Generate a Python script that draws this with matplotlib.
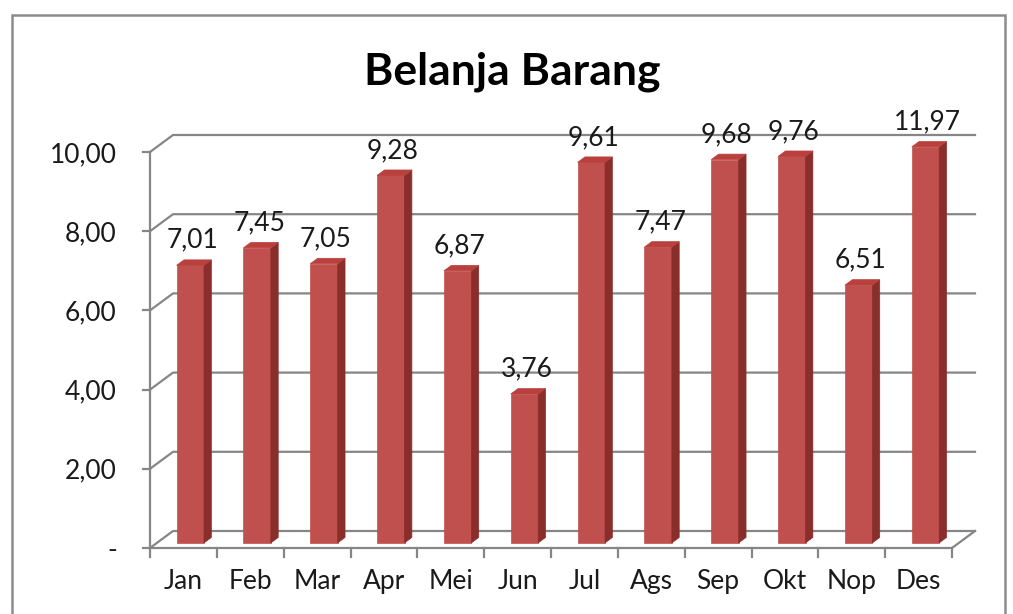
import numpy as np
import matplotlib
matplotlib.use("Agg")
import matplotlib.pyplot as plt
from matplotlib.patches import Polygon, Rectangle
from matplotlib.lines import Line2D
from matplotlib.transforms import IdentityTransform

plt.rcParams['font.family'] = ['Lato', 'DejaVu Sans']

months = ["Jan", "Feb", "Mar", "Apr", "Mei", "Jun", "Jul", "Ags", "Sep", "Okt", "Nop", "Des"]
values = [7.01, 7.45, 7.05, 9.28, 6.87, 3.76, 9.61, 7.47, 9.68, 9.76, 6.51, 11.97]
y_ticks = [0, 2, 4, 6, 8, 10]
y_tick_labels = ["-", "2,00", "4,00", "6,00", "8,00", "10,00"]
title = "Belanja Barang"

W, H, DPI = 1013, 614, 100
DX, DY = 23, 17          # depth offset of the back wall, pixels
BAR_W = 0.41
BAR_D0, BAR_D1 = 0.30, 0.62   # bar front/back as fraction of depth
GRID = "#868686"
FRONT = "#C0504D"
SIDE = "#8A2E2C"
TOP = "#B9403D"
TXT = "#1a1a1a"

fig = plt.figure(figsize=(W / DPI, H / DPI), dpi=DPI)
ax = fig.add_axes([150 / W, 1 - 548 / H, (952 - 150) / W, (548 - 152) / H])
ax.set_xlim(0, len(months))
ax.set_ylim(0, 10)
for s in ax.spines.values():
    s.set_visible(False)
ax.patch.set_visible(False)

# outer chart frame
fig.patches.append(Rectangle((12 / W, -0.1), (1005 - 12) / W, 1.1 - 15 / H,
                             transform=fig.transFigure, fill=False,
                             edgecolor="#8c8c8c", lw=1.8))

fig.text(512 / W, 1 - 72 / H, title, fontsize=32, fontweight="bold",
         ha="center", va="center", color="#000000")


def px(x, y, d=0.0):
    p = ax.transData.transform((x, y))
    return (p[0] + d * DX, p[1] + d * DY)


def add_line(pts, **kw):
    xs, ys = zip(*pts)
    ax.add_line(Line2D(xs, ys, transform=IdentityTransform(), color=GRID,
                       lw=1.6, clip_on=False, **kw))


n = len(months)
# back wall gridlines and left wall diagonals
for t in y_ticks:
    add_line([px(0, t), px(0, t, 1), px(n, t, 1)])
# front axis, floor
add_line([px(0, 0), px(0, 10)])
add_line([px(0, 0), px(n, 0), px(n, 0, 1)])

# ticks
ax.set_yticks(y_ticks, y_tick_labels)
ax.set_xticks(np.arange(n) + 0.5, months)
ax.tick_params(axis="y", length=0, pad=24, labelsize=19, labelcolor=TXT)
ax.tick_params(axis="x", length=0, pad=15, labelsize=19, labelcolor=TXT)
for t in y_ticks:
    p = px(0, t)
    add_line([(p[0] - 7, p[1]), p])
for i in range(n + 1):
    p = px(i, 0)
    add_line([p, (p[0], p[1] - 9)])

# bars
for i, v in enumerate(values):
    top = min(v, 10)
    x0 = i + 0.5 - BAR_W / 2
    x1 = i + 0.5 + BAR_W / 2
    front = [px(x0, 0, BAR_D0), px(x1, 0, BAR_D0), px(x1, top, BAR_D0), px(x0, top, BAR_D0)]
    side = [px(x1, 0, BAR_D0), px(x1, 0, BAR_D1), px(x1, top, BAR_D1), px(x1, top, BAR_D0)]
    topf = [px(x0, top, BAR_D0), px(x1, top, BAR_D0), px(x1, top, BAR_D1), px(x0, top, BAR_D1)]
    for pts, c in ((front, FRONT), (side, SIDE), (topf, TOP)):
        ax.add_patch(Polygon(pts, closed=True, transform=IdentityTransform(),
                             facecolor=c, edgecolor=c, lw=0.5, clip_on=False, zorder=3))
    lx, ly = px(i + 0.5, top, BAR_D0)
    ax.annotate(f"{v:.2f}".replace(".", ","), xy=(lx + 2, ly + 25),
                xycoords=IdentityTransform(), ha="center", va="center",
                fontsize=19, color=TXT, annotation_clip=False)

fig.savefig("out.png", dpi=DPI)
